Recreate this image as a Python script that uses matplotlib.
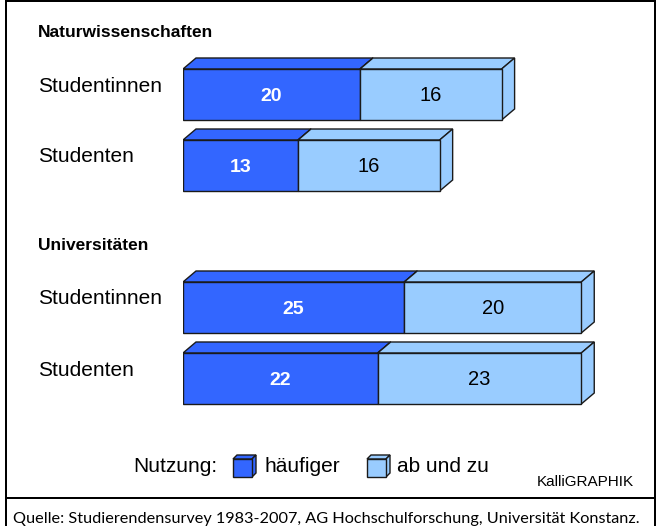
import matplotlib
matplotlib.use("Agg")
import matplotlib.pyplot as plt
from matplotlib.patches import Polygon

# data
groups = ["Naturwissenschaften", "Universitäten"]
rows = ["Studentinnen", "Studenten"]
haeufiger = [[20, 13], [25, 22]]
ab_und_zu = [[16, 16], [20, 23]]
legend_title = "Nutzung:"
series_names = ["häufiger", "ab und zu"]
credit = "KalliGRAPHIK"
source = "Quelle: Studierendensurvey 1983-2007, AG Hochschulforschung, Universität Konstanz."

DARK = "#3366FF"
LIGHT = "#99CCFF"
EDGE = "#1a1a1a"

W, H = 662, 526
PX_PER_UNIT = 8.85
X0 = 183
sans = "Liberation Sans"

fig = plt.figure(figsize=(W / 100, H / 100), dpi=100)

# canvas axes in pixel coordinates for frame and text
canvas = fig.add_axes([0, 0, 1, 1])
canvas.set_xlim(0, W)
canvas.set_ylim(H, 0)
canvas.axis("off")

# bars axes: x in data units, y in pixels
ax = fig.add_axes([X0 / W, 0, (W - X0) / W, 1])
ax.set_xlim(0, (W - X0) / PX_PER_UNIT)
ax.set_ylim(H, 0)
ax.axis("off")

bar_h = 51
dx = 13 / PX_PER_UNIT
dy = 11


def box3d(axis, x, y_top, w, h, color, ddx, ddy, lw=1.0):
    y_bot = y_top + h
    front = Polygon([(x, y_top), (x + w, y_top), (x + w, y_bot), (x, y_bot)],
                    closed=True, fc=color, ec=EDGE, lw=lw)
    top = Polygon([(x, y_top), (x + ddx, y_top - ddy), (x + w + ddx, y_top - ddy), (x + w, y_top)],
                  closed=True, fc=color, ec=EDGE, lw=lw)
    side = Polygon([(x + w, y_top), (x + w + ddx, y_top - ddy), (x + w + ddx, y_bot - ddy), (x + w, y_bot)],
                   closed=True, fc=color, ec=EDGE, lw=lw)
    for p in (top, side, front):
        axis.add_patch(p)


def fit_text(t, width):
    fig.canvas.draw()
    bb = t.get_window_extent(fig.canvas.get_renderer())
    t.set_fontsize(t.get_fontsize() * width / bb.width)


# layout: front-face tops of each row, group title baselines
row_tops = [[69, 140], [282, 353]]
title_base = [37, 250]

for g, gname in enumerate(groups):
    canvas.text(38, title_base[g], gname, fontsize=12.5, fontweight="bold",
                family=sans, va="baseline", ha="left")
    for r, rname in enumerate(rows):
        yt = row_tops[g][r]
        a = haeufiger[g][r]
        b = ab_und_zu[g][r]
        cy = yt + bar_h / 2
        canvas.text(38, cy - 3, rname, fontsize=15, family=sans, va="baseline", ha="left")
        # dark first, light in front hides the dark side face
        box3d(ax, 0, yt, a, bar_h, DARK, dx, dy)
        box3d(ax, a, yt, b, bar_h, LIGHT, dx, dy)
        ax.text(a / 2, cy + 2, str(a), color="white", fontsize=14, fontweight="bold",
                family=sans, ha="center", va="center")
        ax.text(a + b / 2, cy + 1, str(b), color="black", fontsize=14.5,
                family=sans, ha="center", va="center")

# legend
canvas.text(133, 472, legend_title, fontsize=15, family=sans, va="baseline", ha="left")
icon_x = [233, 367]
text_x = [265, 397]
for i, (name, col) in enumerate(zip(series_names, [DARK, LIGHT])):
    box3d(canvas, icon_x[i], 459, 19, 18, col, 4, 4, lw=1.0)
    canvas.text(text_x[i], 472, name, fontsize=15, family=sans, va="baseline", ha="left")

canvas.text(537, 486, credit, fontsize=11, family=sans, va="baseline", ha="left")

# frame
lw = 2.0 * 72 / 100
canvas.plot([6, 6], [0, H], color="black", lw=lw, solid_capstyle="butt")
canvas.plot([655, 655], [0, H], color="black", lw=lw, solid_capstyle="butt")
canvas.plot([6, 655], [1, 1], color="black", lw=lw, solid_capstyle="butt")
canvas.plot([6, 655], [498, 498], color="black", lw=lw, solid_capstyle="butt")

# footer text, scaled to fit the target width
src = canvas.text(13, 523, source, fontsize=11, family="Lato", va="baseline", ha="left")
fit_text(src, 624)

fig.savefig("out.png", dpi=100)
